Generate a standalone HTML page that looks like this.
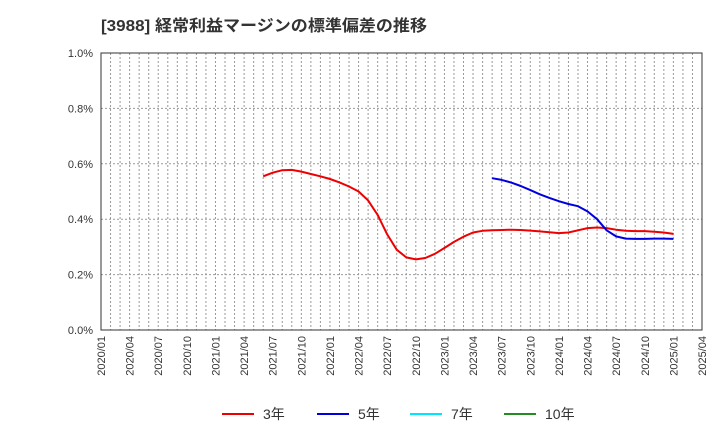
<!DOCTYPE html>
<html><head><meta charset="utf-8"><style>
body{margin:0;background:#fff;font-family:"Liberation Sans","Noto Sans CJK JP",sans-serif}
</style></head><body>
<svg width="720" height="440" xmlns="http://www.w3.org/2000/svg">
<text x="101" y="31" font-size="16" font-weight="bold" fill="#333" textLength="326" lengthAdjust="spacingAndGlyphs" font-family="Liberation Sans, Noto Sans CJK JP, sans-serif">[3988]  経常利益マージンの標準偏差の推移</text>
<g id="grid"></g>
<g id="axes"></g>
<g id="series"></g>
<g id="legend"></g>
</svg>
<script>
const xLabels=["2020/01","2020/04","2020/07","2020/10","2021/01","2021/04","2021/07","2021/10","2022/01","2022/04","2022/07","2022/10","2023/01","2023/04","2023/07","2023/10","2024/01","2024/04","2024/07","2024/10","2025/01","2025/04"];
const yTicks=[0,0.2,0.4,0.6,0.8,1.0];
const red3Start=17;
const red3=[0.555,0.568,0.577,0.578,0.572,0.563,0.555,0.545,0.533,0.518,0.500,0.468,0.415,0.345,0.290,0.262,0.255,0.260,0.275,0.296,0.318,0.337,0.352,0.358,0.360,0.361,0.362,0.361,0.359,0.356,0.353,0.350,0.352,0.360,0.368,0.370,0.368,0.362,0.358,0.357,0.357,0.355,0.352,0.347];
const blue5Start=41;
const blue5=[0.548,0.542,0.532,0.520,0.505,0.490,0.477,0.465,0.455,0.447,0.428,0.400,0.360,0.338,0.330,0.329,0.329,0.330,0.330,0.329];
const NS="http://www.w3.org/2000/svg";
const L=101,R=702,T=53,B=330,months=63;
const xs=m=>L+(R-L)*m/months, ys=v=>B-(B-T)*v/1.0;
function mk(tag,attrs,parent,text){const e=document.createElementNS(NS,tag);for(const k in attrs)e.setAttribute(k,attrs[k]);if(text!=null)e.textContent=text;parent.appendChild(e);return e;}
const grid=document.getElementById('grid'),axes=document.getElementById('axes'),ser=document.getElementById('series'),leg=document.getElementById('legend');
for(let m=1;m<months;m++){const l=mk('line',{x1:xs(m),x2:xs(m),y1:T,y2:B,stroke:'#999','stroke-dasharray':'2,2','stroke-width':1},grid);

}
yTicks.forEach(v=>{if(v>0&&v<1){const l=mk('line',{x1:L,x2:R,y1:ys(v),y2:ys(v),stroke:'#999','stroke-dasharray':'2,2'},grid);

}
const t=mk('text',{x:L-8,y:ys(v)+4,'text-anchor':'end','font-size':11,fill:'#333'},axes,v.toFixed(1)+'%');

});
const fr=mk('rect',{x:L,y:T,width:R-L,height:B-T,fill:'none',stroke:'#333','stroke-width':1},axes);


xLabels.forEach((s,i)=>{const x=xs(i*3);const t=mk('text',{x:x+4,y:B+6,'text-anchor':'end','font-size':11,fill:'#333',transform:`rotate(-90 ${x+4} ${B+6})`},axes,s);

});
function line(arr,start,color,name){const d=arr.map((v,i)=>(i?'L':'M')+xs(start+i).toFixed(1)+','+ys(v).toFixed(1)).join('');
const p=mk('path',{d:d,fill:'none',stroke:color,'stroke-width':2,'stroke-linejoin':'round'},ser);

}
line(red3,red3Start,'#ee0000','line-3yr');
line(blue5,blue5Start,'#0000dd','line-5yr');
[["3年","#ee0000",222],["5年","#0000dd",317],["7年","#00e5ff",410],["10年","#228b22",504]].forEach(([n,c,x])=>{
const g=mk('g',{},leg);


mk('line',{x1:x,x2:x+32,y1:414,y2:414,stroke:c,'stroke-width':2},g);
mk('text',{x:x+41,y:419,'font-size':14,fill:'#333'},g,n);});
</script>
</body></html>
